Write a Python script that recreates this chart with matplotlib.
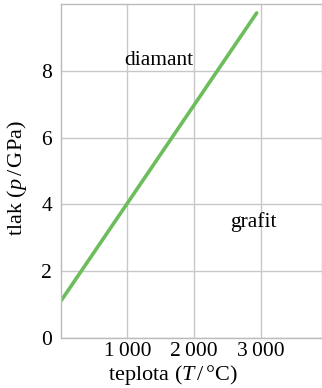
import matplotlib
matplotlib.use("Agg")
import matplotlib.pyplot as plt

plt.rcParams['font.family'] = ['Liberation Serif', 'DejaVu Serif']
plt.rcParams['mathtext.fontset'] = 'custom'
plt.rcParams['mathtext.rm'] = 'Liberation Serif'
plt.rcParams['mathtext.it'] = 'Liberation Serif:italic'

# hranice diamant / grafit
teplota = [0, 2937]
tlak = [1.09, 9.74]

x_ticks = [1000, 2000, 3000]
x_labels = ['1\u2009000', '2\u2009000', '3\u2009000']
y_ticks = [0, 2, 4, 6, 8]

fig = plt.figure(figsize=(3.22, 3.88), dpi=100)
ax = fig.add_axes([0.188, 0.129, 0.812, 0.86])

ax.plot(teplota, tlak, color='#6cbd5c', linewidth=2.6, solid_capstyle='round')

ax.text(1475, 8.32, 'diamant', fontsize=15.5, ha='center', va='center')
ax.text(2880, 3.47, 'grafit', fontsize=15.5, ha='center', va='center')

ax.set_xlim(0, 3915)
ax.set_ylim(0, 10)
ax.set_xticks(x_ticks)
ax.set_xticklabels(x_labels)
ax.set_yticks(y_ticks)
ax.tick_params(length=0, labelsize=15.5, pad=6)
ax.tick_params(axis='x', pad=3)

ax.grid(True, color='#c8c8c8', linewidth=1)
for s in ax.spines.values():
    s.set_color('#bbbbbb')
    s.set_linewidth(1)

ax.set_xlabel(r'teplota ($T\,/\,$°C)', fontsize=16)
ax.set_ylabel(r'tlak ($p\,/\,$GPa)', fontsize=16)
ax.xaxis.set_label_coords(0.43, -0.075)
ax.yaxis.set_label_coords(-0.12, 0.48)

fig.savefig('out.png', dpi=100)
